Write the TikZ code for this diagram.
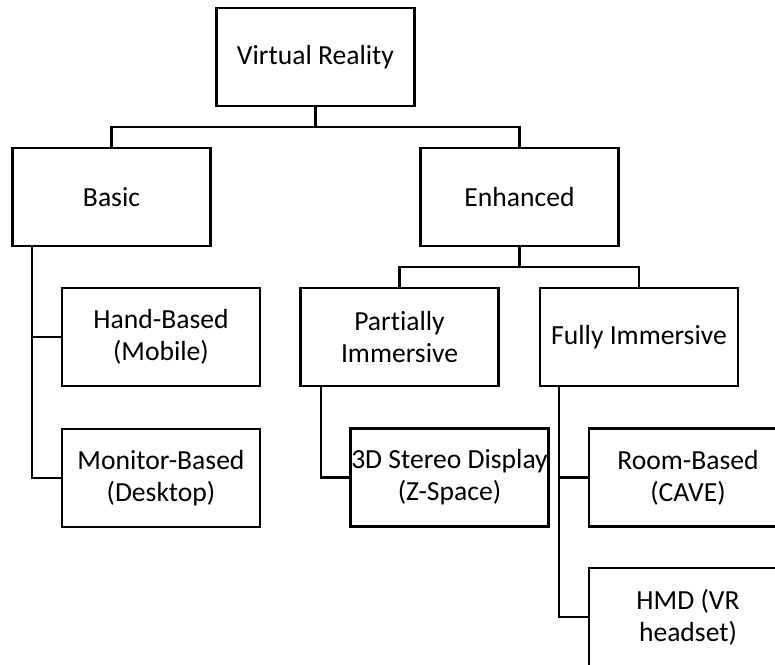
\documentclass[tikz,border=0pt]{standalone}
\usepackage{fontspec}
\setmainfont{Carlito}[Ligatures=NoCommon]
\begin{document}
\begin{tikzpicture}[x=1pt,y=-1pt,
  box/.style={draw,line width=2.8pt,minimum width=198pt,minimum height=98pt,
    inner sep=0pt,align=center,font=\fontsize{27.6}{32}\selectfont},
  link/.style={line width=2.8pt}]
\useasboundingbox (0,0) rectangle (775,664);
\clip (0,0) rectangle (775,664);
\node[box] (vr)   at (315.5,57)   {Virtual Reality};
\node[box] (basic) at (111.5,197) {Basic};
\node[box] (enh)  at (519.5,197)  {Enhanced};
\node[box] (hand) at (161,337)    {Hand-Based\\(Mobile)};
\node[box] (mon)  at (161,478)    {Monitor-Based\\(Desktop)};
\node[box] (part) at (399.5,337)  {Partially\\Immersive};
\node[box] (full) at (639,337)    {Fully Immersive};
\node[box] (stereo) at (449.5,477.5) {3D Stereo Display\\(Z-Space)};
\node[box] (room) at (688,477.5)  {Room-Based\\(CAVE)};
\node[box] (hmd)  at (688,617)    {HMD (VR\\headset)};
% top level
\coordinate (vrj) at (315.5,127);
\draw[link] (vr.south) -- (vrj);
\draw[link] (basic.north) |- (vrj) -| (enh.north);
% enhanced split
\coordinate (enj) at (519.5,267);
\draw[link] (enh.south) -- (enj);
\draw[link] (part.north) |- (enj) -| (full.north);
% basic children
\draw[link] (32,247) |- (hand.west);
\draw[link] (32,247) |- (mon.west);
% partially immersive child
\draw[link] (321,385) |- (stereo.west);
% fully immersive children
\draw[link] (559,387) |- (room.west);
\draw[link] (559,387) |- (hmd.west);
\end{tikzpicture}
\end{document}
